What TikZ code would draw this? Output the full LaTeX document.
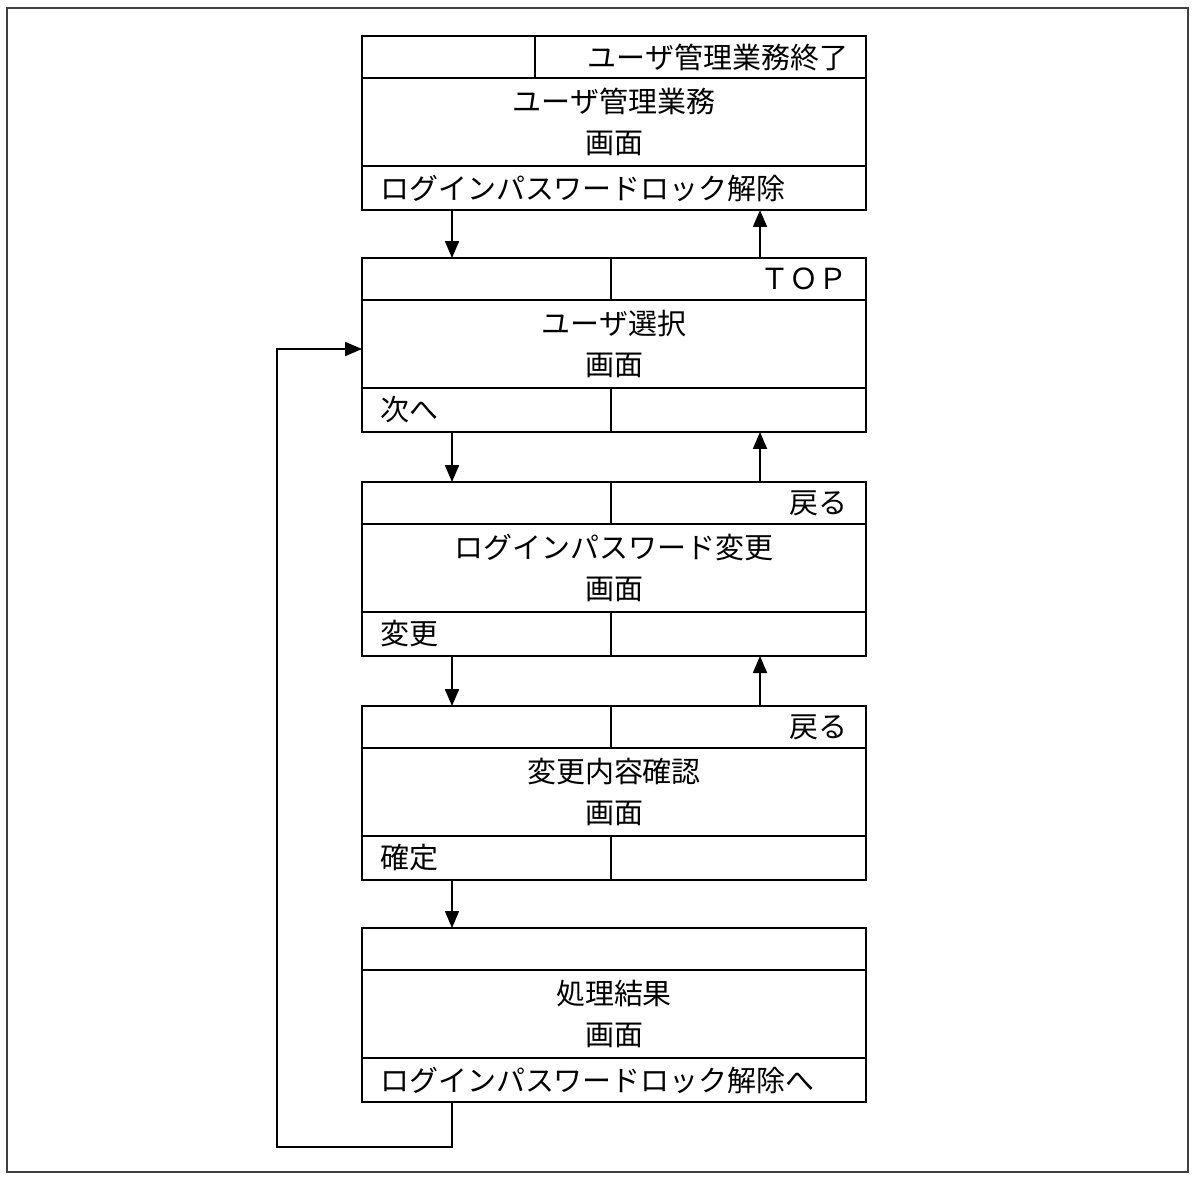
\documentclass[tikz,border=0pt]{standalone}
\usepackage{fontspec}
\setmainfont{Noto Sans CJK JP}
\usetikzlibrary{positioning,calc,arrows.meta}

\begin{document}
\begin{tikzpicture}[x=0.02cm,y=-0.02cm,
    every node/.style={font=\fontsize{16.5}{23}\selectfont},
    scrmid/.style={draw,line width=1pt,minimum width=10.08cm,minimum height=1.76cm,
        text width=9.36cm,inner xsep=0.36cm,inner ysep=0pt,outer sep=0pt,align=center},
    rowr/.style={draw,line width=1pt,minimum width=10.08cm,minimum height=0.84cm,
        text width=9.36cm,inner xsep=0.36cm,inner ysep=0pt,outer sep=0pt,align=right},
    rowl/.style={rowr,align=left,minimum height=0.88cm},
    arr/.style={line width=1pt,-{Triangle[length=3.4mm,width=2.8mm]}},
    frame/.style={draw=black!75,line width=1pt}]
    \useasboundingbox (0,0) rectangle (1192,1178);
    \draw[frame] (7,8) rectangle (1188,1172);

    % User management screen
    \node[scrmid] (kanri) at (614,122) {ユーザ管理業務\\画面};
    \node[rowr, above=0pt of kanri] (kanri-t) {ユーザ管理業務終了};
    \node[rowl, below=0pt of kanri] (kanri-b) {ログインパスワードロック解除};

    % User selection screen
    \node[scrmid] (sentaku) at (614,344) {ユーザ選択\\画面};
    \node[rowr, above=0pt of sentaku] (sentaku-t) {ＴＯＰ};
    \node[rowl, below=0pt of sentaku] (sentaku-b) {次へ};

    % Password change screen
    \node[scrmid] (henko) at (614,568) {ログインパスワード変更\\画面};
    \node[rowr, above=0pt of henko] (henko-t) {戻る};
    \node[rowl, below=0pt of henko] (henko-b) {変更};

    % Confirmation screen
    \node[scrmid] (kakunin) at (614,792) {変更内容確認\\画面};
    \node[rowr, above=0pt of kakunin] (kakunin-t) {戻る};
    \node[rowl, below=0pt of kakunin] (kakunin-b) {確定};

    % Result screen
    \node[scrmid] (kekka) at (614,1014) {処理結果\\画面};
    \node[rowr, above=0pt of kekka] (kekka-t) {};
    \node[rowl, below=0pt of kekka] (kekka-b) {ログインパスワードロック解除へ};

    % dividers
    \coordinate (d1) at (535,0);
    \coordinate (d2) at (611,0);
    \draw[line width=1pt] (kanri-t.north -| d1) -- (kanri-t.south -| d1);
    \foreach \s in {sentaku,henko,kakunin} {
        \draw[line width=1pt] (\s-t.north -| d2) -- (\s-t.south -| d2);
        \draw[line width=1pt] (\s-b.north -| d2) -- (\s-b.south -| d2);
    }

    % transitions
    \coordinate (dnx) at (452,0);
    \coordinate (upx) at (760,0);
    \foreach \a/\b in {kanri/sentaku,sentaku/henko,henko/kakunin,kakunin/kekka}
        \draw[arr] (\a-b.south -| dnx) -- (\b-t.north -| dnx);
    \foreach \a/\b in {sentaku/kanri,henko/sentaku,kakunin/henko}
        \draw[arr] (\a-t.north -| upx) -- (\b-b.south -| upx);
    \coordinate (lp) at (277,1147);
    \draw[arr] (kekka-b.south -| dnx) |- (lp) |- ($(sentaku.west)+(0,5)$);
\end{tikzpicture}
\end{document}
